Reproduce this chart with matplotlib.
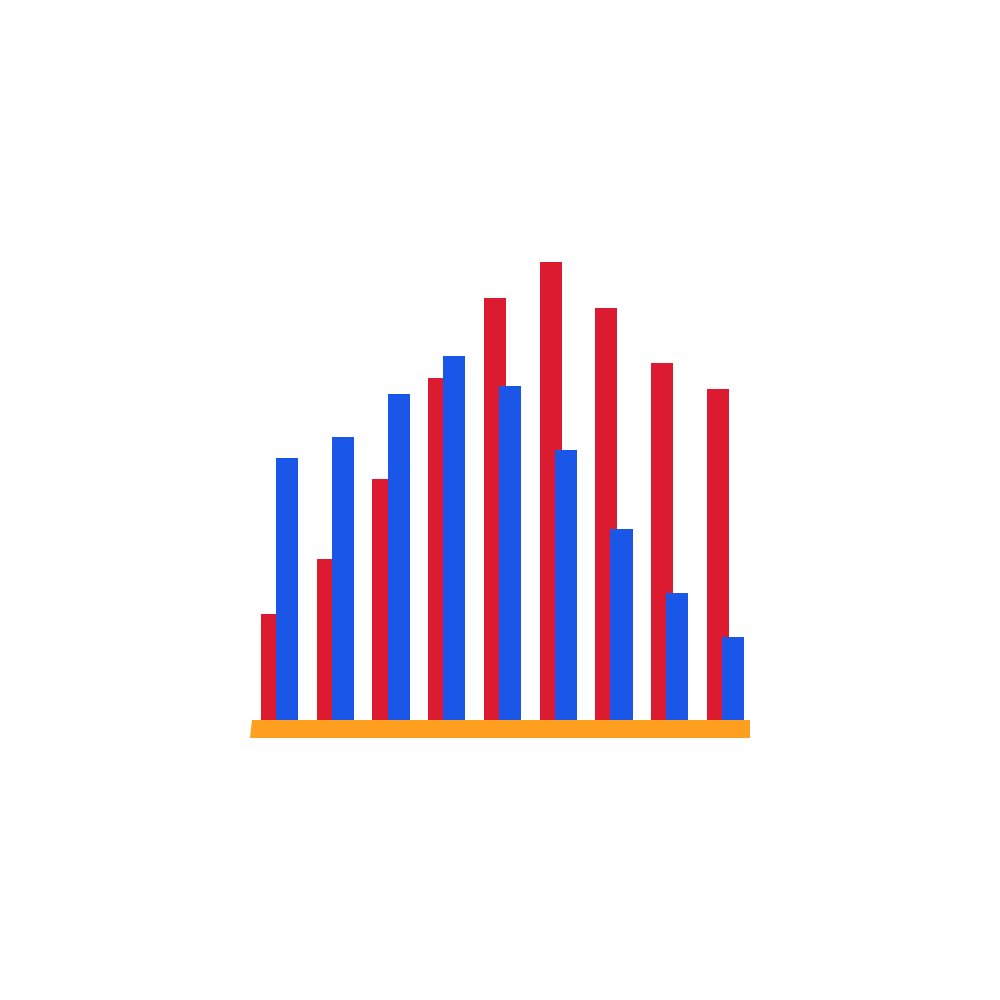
import numpy as np
import matplotlib
matplotlib.use("Agg")
import matplotlib.pyplot as plt
import matplotlib.patches as mpatches

# bar heights (same units as the plot scale)
groups = list(range(9))
red_values = [106, 161, 241, 342, 422, 458, 412, 357, 331]
blue_values = [262, 283, 326, 364, 334, 270, 191, 127, 83]

RED = "#DC1B30"
BLUE = "#1A56E8"
ORANGE = "#FF9F1F"

fig = plt.figure(figsize=(10, 10), dpi=100)
ax = fig.add_axes([0.25, 0.262, 0.5, 0.5])

x = np.arange(len(groups))
bar_w = 0.395
offset = 0.135

ax.bar(x - offset, red_values, width=bar_w, color=RED, zorder=2)
ax.bar(x + offset, blue_values, width=bar_w, color=BLUE, zorder=3)

x_lo, x_hi = -0.529, 8.44
y_lo, y_hi = -18, 482
ax.set_xlim(x_lo, x_hi)
ax.set_ylim(y_lo, y_hi)

# orange base strip, slight slant on the left edge
base = mpatches.Polygon(
    [(x_lo, y_lo), (x_hi, y_lo), (x_hi, 0), (x_lo + 0.036, 0)],
    closed=True, facecolor=ORANGE, edgecolor="none", zorder=4
)
ax.add_patch(base)

ax.axis("off")

fig.savefig("out.png", dpi=100, facecolor="white")
plt.close(fig)
